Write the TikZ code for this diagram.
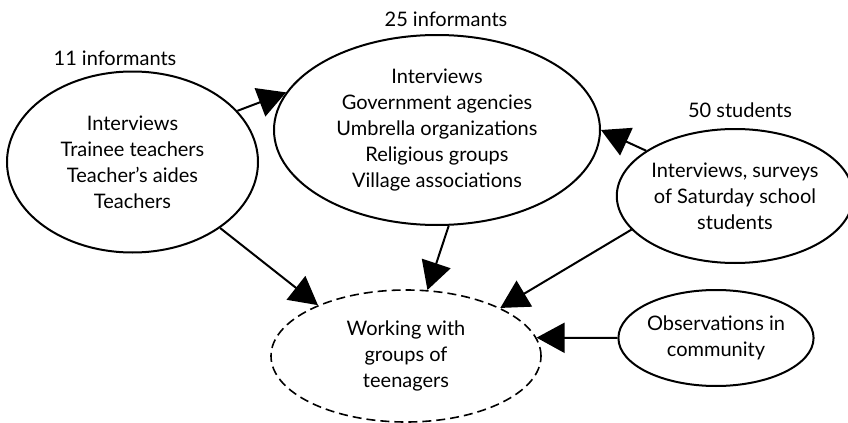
\documentclass[tikz,border=0pt]{standalone}
\usepackage{fontspec}
\setmainfont{Lato}
\usetikzlibrary{shapes,arrows.meta,positioning,calc}

\tikzset{
  source/.style={ellipse, draw=black, line width=1pt, inner sep=0pt, align=center},
  target/.style={ellipse, draw=black, line width=0.8pt, dash pattern=on 4.5pt off 2.5pt, inner sep=0pt, align=center},
  link/.style={line width=1pt, -{Triangle[length=14pt, width=15pt]}}
}

\begin{document}
\begin{tikzpicture}[x=0.5pt, y=-0.5pt, font=\fontsize{10}{13}\selectfont]

\useasboundingbox (0,0) rectangle (848,423);

% Counts
\node (count11) at (115, 58) {11 informants};
\node (count25) at (446, 19) {25 informants};
\node (count50) at (740, 110) {50 students};

% Sources
\node[source, minimum width=125.5pt, minimum height=90.5pt] (teachers) at (132.5, 162) {Interviews\\Trainee teachers\\Teacher’s aides\\Teachers};
\node[source, minimum width=163pt, minimum height=95pt] (agencies) at (437, 130) {Interviews\\Government agencies\\Umbrella organizations\\Religious groups\\Village associations};
\node[source, minimum width=113pt, minimum height=67pt] (students) at (735, 196) {Interviews, surveys\\of Saturday school\\students};
\node[source, minimum width=87pt, minimum height=48pt] (observe) at (716, 338) {Observations in\\community};

% Goal
\node[target, minimum width=135pt, minimum height=66pt] (teens) at (406, 356) {Working with\\groups of\\teenagers};

% Links
\draw[link] (teachers.26) -- (agencies.166);
\draw[link] (students.153) -- (agencies.east);
\draw[link] (teachers.-37) -- (teens.150);
\draw[link] (agencies.-83) -- (teens.72);
\draw[link] (students.198) -- (teens.27);
\draw[link] (observe.west) -- (teens.8);

\end{tikzpicture}
\end{document}
